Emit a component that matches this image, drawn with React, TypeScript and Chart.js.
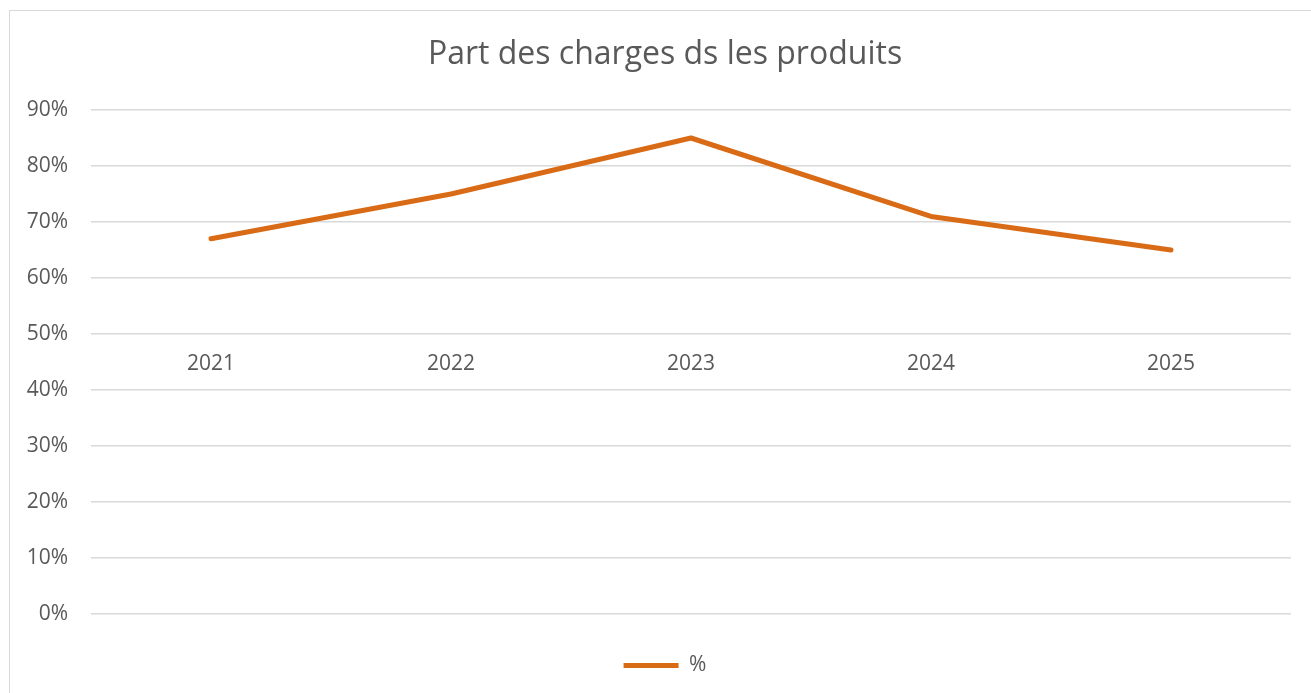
import React, { useEffect, useRef } from "react";
import { Chart, registerables } from "chart.js";

Chart.register(...registerables);

const categories = ["2021", "2022", "2023", "2024", "2025"];
const seriesValues = [67, 75, 85, 71, 65];
const seriesLabel = "%";
const chartTitle = "Part des charges ds les produits";
const yMin = 0;
const yMax = 90;
const yStep = 10;

const FONT = "'Open Sans', 'DejaVu Sans', sans-serif";
const TEXT = "#595959";
const GRID = "#D9D9D9";
const LINE = "#D96B16";

export default function App() {
  const ref = useRef<HTMLCanvasElement | null>(null);

  useEffect(() => {
    if (!ref.current) return;
    const chart = new Chart(ref.current, {
      type: "line",
      data: {
        labels: categories,
        datasets: [
          {
            label: seriesLabel,
            data: seriesValues,
            borderColor: LINE,
            backgroundColor: LINE,
            borderWidth: 5,
            borderCapStyle: "round",
            borderJoinStyle: "round",
            pointRadius: 0,
            pointHoverRadius: 0,
            tension: 0,
            fill: false,
          },
        ],
      },
      options: {
        responsive: false,
        animation: false,
        layout: { padding: { left: 10, right: 0, top: 0, bottom: 7 } },
        plugins: {
          tooltip: { enabled: false },
          title: {
            display: true,
            text: chartTitle,
            color: TEXT,
            font: { family: FONT, size: 32, weight: "normal" },
            padding: { top: 36, bottom: 35.6 },
          },
          legend: {
            display: true,
            position: "bottom",
            labels: {
              color: TEXT,
              font: { family: FONT, size: 21 },
              usePointStyle: true,
              pointStyle: "line",
              pointStyleWidth: 55,
              boxHeight: 10,
              padding: 41,
            },
          },
        },
        scales: {
          x: {
            type: "category",
            position: { y: 50 } as any,
            offset: true,
            grid: { display: false, drawTicks: false },
            border: { display: false },
            ticks: {
              color: TEXT,
              font: { family: FONT, size: 21 },
              padding: 17,
              maxRotation: 0,
            },
          },
          y: {
            min: yMin,
            max: yMax,
            position: "left",
            grid: { color: GRID, lineWidth: 1.5, drawTicks: false },
            border: { display: false },
            ticks: {
              stepSize: yStep,
              color: TEXT,
              font: { family: FONT, size: 21 },
              padding: 23,
              callback: (v: any) => `${v}%`,
            },
            afterFit: (scale: any) => {
              scale.width = 81;
            },
          },
          yRight: {
            type: "linear",
            position: "right",
            display: true,
            grid: { display: false, drawTicks: false },
            border: { display: false },
            ticks: { display: false },
            afterFit: (scale: any) => {
              scale.width = 29;
            },
          },
        },
      },
    });
    return () => chart.destroy();
  }, []);

  return (
    <div
      style={{
        position: "fixed",
        left: 0,
        top: 0,
        width: 1311,
        height: 693,
        overflow: "hidden",
        background: "#fff",
      }}
    >
      <div
        style={{
          position: "absolute",
          left: 9,
          top: 10,
          width: 1320,
          height: 700,
          border: "1.5px solid #D9D9D9",
          boxSizing: "border-box",
        }}
      />
      <canvas
        ref={ref}
        width={1320}
        height={693}
        style={{ position: "absolute", left: 0, top: 0, width: 1320, height: 693 }}
      />
    </div>
  );
}
